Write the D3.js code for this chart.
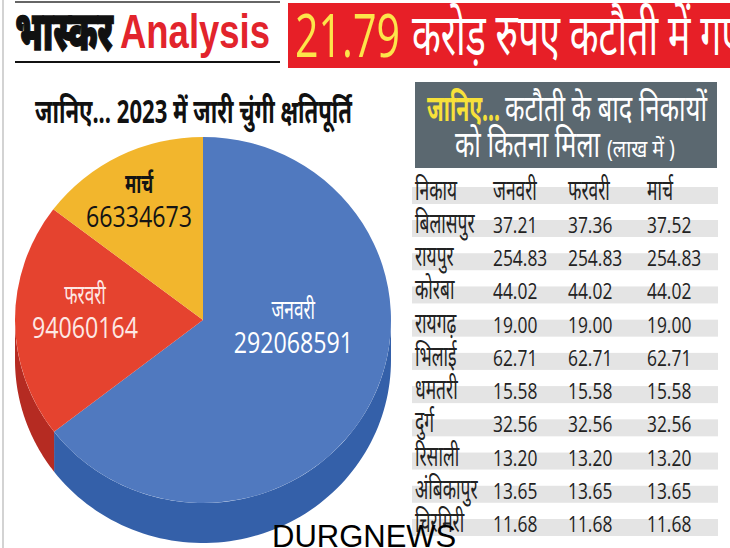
<!DOCTYPE html>
<html>
<head>
<meta charset="utf-8">
<script src="https://cdn.jsdelivr.net/npm/d3@7"></script>
<style>
  body { margin: 0; background: #fff; }
  svg { display: block; }
</style>
</head>
<body>
<div id="chart"></div>
<script>
// pie data
var months = ["जनवरी", "फरवरी", "मार्च"];
var pieValues = [292068591, 94060164, 66334673];

// table data (lakh)
var bodies = ["बिलासपुर", "रायपुर", "कोरबा", "रायगढ़", "भिलाई", "धमतरी", "दुर्ग", "रिसाली", "अंबिकापुर", "चिरमिरी"];
var janValues = [37.21, 254.83, 44.02, 19.00, 62.71, 15.58, 32.56, 13.20, 13.65, 11.68];
var febValues = [37.36, 254.83, 44.02, 19.00, 62.71, 15.58, 32.56, 13.20, 13.65, 11.68];
var marValues = [37.52, 254.83, 44.02, 19.00, 62.71, 15.58, 32.56, 13.20, 13.65, 11.68];

function main(){
    var width = 730, height = 548;
    var font = "'Noto Sans', 'Open Sans', sans-serif";

    var svg = d3.select("#chart").append("svg")
        .attr("width", width)
        .attr("height", height);

    // squash text horizontally by a factor of its own length
    function condense(sel, f) {
        sel.each(function(){
            var L = this.getComputedTextLength();
            d3.select(this).attr("textLength", L * f).attr("lengthAdjust", "spacingAndGlyphs");
        });
    }
    function fit(sel, w) {
        sel.attr("textLength", w).attr("lengthAdjust", "spacingAndGlyphs");
    }

    // left frame line
    svg.append("line")
        .attr("x1", 3).attr("x2", 3).attr("y1", 0).attr("y2", height)
        .attr("stroke", "#c4c4c4").attr("stroke-width", 1.5);

    // masthead
    svg.append("line").attr("x1", 15).attr("x2", 280).attr("y1", 2).attr("y2", 2)
        .attr("stroke", "#333").attr("stroke-width", 1.5);
    svg.append("line").attr("x1", 15).attr("x2", 280).attr("y1", 62).attr("y2", 62)
        .attr("stroke", "#111").attr("stroke-width", 2);
    svg.append("text")
        .attr("x", 15).attr("y", 50)
        .attr("font-family", font).attr("font-weight", 900).attr("font-size", "54px")
        .attr("fill", "#111")
        .attr("stroke", "#111").attr("stroke-width", 1.5)
        .text("भास्कर")
        .call(fit, 98);
    svg.append("text")
        .attr("x", 120).attr("y", 48)
        .attr("font-family", "'Liberation Sans', Arial, sans-serif").attr("font-weight", "bold")
        .attr("font-size", "49px")
        .attr("fill", "#e2242c")
        .text("Analysis")
        .call(fit, 150);

    svg.append("rect")
        .attr("x", 288).attr("y", 3).attr("width", width - 288).attr("height", 65)
        .attr("fill", "#e71f27");
    svg.append("text")
        .attr("x", 295).attr("y", 57)
        .attr("font-family", "'Open Sans', sans-serif").attr("font-size", "60px")
        .attr("fill", "#fde54a")
        .text("21.79")
        .call(fit, 105);
    svg.append("text")
        .attr("x", 412).attr("y", 55)
        .attr("font-family", font).attr("font-size", "58px")
        .attr("fill", "#fff")
        .text("करोड़ रुपए कटौती में गए")
        .call(fit, 330);

    // pie title
    svg.append("text")
        .attr("x", 35).attr("y", 123)
        .attr("font-family", font).attr("font-weight", "bold").attr("font-size", "33px")
        .attr("fill", "#111")
        .text("जानिए... 2023 में जारी चुंगी क्षतिपूर्ति")
        .call(fit, 317);

    // 3D pie
    var cx = 203, cy = 320, rx = 188, ry = 183, depth = 40;
    var topColors = ["#5079bf", "#e5432f", "#f2b62d"];
    var sideColors = ["#3460a9", "#b52b22", "#c8921f"];

    var pie = d3.pie().sort(null).value(function(d){ return d; });
    var arcs = pie(pieValues);
    var arc = d3.arc().innerRadius(0).outerRadius(rx);

    var pieG = svg.append("g").attr("transform", "translate(" + cx + "," + cy + ")");

    // side walls, only the front half (east through south to west)
    var line = d3.line();
    arcs.forEach(function(d, i){
        var a0 = Math.max(d.startAngle, Math.PI / 2);
        var a1 = Math.min(d.endAngle, 3 * Math.PI / 2);
        if (a1 <= a0) return;
        var n = 80, topPts = [], botPts = [];
        for (var k = 0; k <= n; k++) {
            var a = a0 + (a1 - a0) * k / n;
            topPts.push([rx * Math.sin(a), -ry * Math.cos(a)]);
            botPts.push([rx * Math.sin(a), -ry * Math.cos(a) + depth]);
        }
        pieG.append("path")
            .attr("d", line(topPts.concat(botPts.reverse())) + "Z")
            .attr("fill", sideColors[i]);
    });

    var topG = pieG.append("g").attr("transform", "scale(1," + (ry / rx) + ")");
    topG.selectAll("path.slice")
        .data(arcs)
        .enter().append("path")
        .attr("class", "slice")
        .attr("d", arc)
        .attr("fill", function(d, i){ return topColors[i]; });

    // labels: placed by angle (deg, clockwise from top) and radius on the top face
    var labelPlace = [[97, 91], [272, 118], [331.5, 134]];
    var labelColors = ["#ffffff", "#fde8e4", "#141414"];
    arcs.forEach(function(d, i){
        var a = labelPlace[i][0] * Math.PI / 180, r = labelPlace[i][1];
        var px = r * Math.sin(a), py = -r * Math.cos(a) * ry / rx;
        pieG.append("text")
            .attr("x", px).attr("y", py - 12)
            .attr("text-anchor", "middle")
            .attr("font-family", font).attr("font-size", "27px")
            .attr("font-weight", i === 2 ? "bold" : "normal")
            .attr("fill", labelColors[i])
            .text(months[i])
            .call(condense, 0.64);
        pieG.append("text")
            .attr("x", px).attr("y", py + 22)
            .attr("text-anchor", "middle")
            .attr("font-family", "'Open Sans', sans-serif").attr("font-size", "29px")
            .attr("fill", labelColors[i])
            .text(d.data)
            .call(condense, 0.8);
    });

    // table box title
    svg.append("rect")
        .attr("x", 415).attr("y", 82).attr("width", 302).attr("height", 86)
        .attr("fill", "#5b6870");
    svg.append("text")
        .attr("x", 427).attr("y", 121)
        .attr("font-family", font).attr("font-weight", "bold").attr("font-size", "37px")
        .attr("fill", "#f7e13a")
        .text("जानिए...")
        .call(fit, 73);
    svg.append("text")
        .attr("x", 505).attr("y", 121)
        .attr("font-family", font).attr("font-size", "37px")
        .attr("fill", "#fff")
        .text("कटौती के बाद निकायों")
        .call(fit, 202);
    svg.append("text")
        .attr("x", 455).attr("y", 157)
        .attr("font-family", font).attr("font-size", "37px")
        .attr("fill", "#fff")
        .text("को कितना मिला")
        .call(fit, 145);
    svg.append("text")
        .attr("x", 607).attr("y", 157)
        .attr("font-family", font).attr("font-size", "24px")
        .attr("fill", "#fff")
        .text("(लाख में )")
        .call(fit, 68);

    // table
    var colX = d3.scaleOrdinal().domain(["name", "jan", "feb", "mar"]).range([415, 493, 568, 647]);
    var rowY = d3.scaleLinear().domain([0, bodies.length - 1]).range([233, 532]);
    var headerY = 200;

    var bandRows = [headerY].concat(bodies.map(function(d, i){ return rowY(i); }));
    svg.selectAll("rect.band")
        .data(bandRows)
        .enter().append("rect")
        .attr("class", "band")
        .attr("x", 412).attr("width", 306)
        .attr("y", function(d){ return d - 13; })
        .attr("height", 17)
        .attr("fill", "#e4e4e4");

    var headers = ["निकाय"].concat(months);
    svg.selectAll("text.head")
        .data(headers)
        .enter().append("text")
        .attr("class", "head")
        .attr("x", function(d, i){ return colX(colX.domain()[i]); })
        .attr("y", headerY)
        .attr("font-family", font).attr("font-size", "29px")
        .attr("fill", "#222")
        .text(function(d){ return d; })
        .call(condense, 0.6);

    svg.selectAll("text.body")
        .data(bodies)
        .enter().append("text")
        .attr("class", "body")
        .attr("x", colX("name"))
        .attr("y", function(d, i){ return rowY(i); })
        .attr("font-family", font).attr("font-size", "29px")
        .attr("fill", "#222")
        .text(function(d){ return d; })
        .call(condense, 0.6);

    [["jan", janValues], ["feb", febValues], ["mar", marValues]].forEach(function(c){
        svg.selectAll("text.v-" + c[0])
            .data(c[1])
            .enter().append("text")
            .attr("class", "v-" + c[0])
            .attr("x", colX(c[0]))
            .attr("y", function(d, i){ return rowY(i); })
            .attr("font-family", "'Open Sans', sans-serif").attr("font-size", "22px")
            .attr("fill", "#222")
            .text(function(d){ return d.toFixed(2); })
            .call(condense, 0.79);
    });

    // watermark
    svg.append("text")
        .attr("x", 272).attr("y", 547)
        .attr("font-family", "'Liberation Sans', Arial, sans-serif").attr("font-size", "31px")
        .attr("fill", "#000")
        .text("DURGNEWS");
}
main();
</script>
</body>
</html>
